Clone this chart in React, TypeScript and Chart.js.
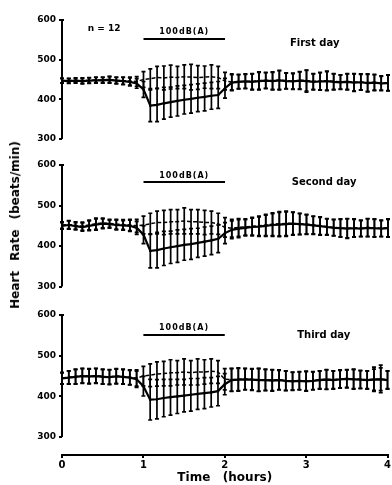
import React, { useEffect, useRef } from 'react';
import { Chart, registerables } from 'chart.js';

Chart.register(...registerables);

// ---------- data ----------
const minutes = [
  0, 5, 10, 15, 20, 25, 30, 35, 40, 45, 50, 55,
  60, 65, 70, 75, 80, 85, 90, 95, 100, 105, 110, 115,
  120, 125, 130, 135, 140, 145, 150, 155, 160, 165, 170, 175,
  180, 185, 190, 195, 200, 205, 210, 215, 220, 225, 230, 235, 240,
];
const hourTickValues = [0, 60, 120, 180, 240];
const hourLabels = ['0', '1', '2', '3', '4'];
const yTickValues = [300, 400, 500, 600];
const noisePeriod = [60, 120];

// Day 1
const d1Noise = [
  447, 446, 447, 446, 447, 448, 448, 449, 447, 446, 444, 440,
  425, 384, 386, 390, 393, 396, 399, 401, 404, 406, 409, 411,
  428, 442, 444, 445, 444, 446, 447, 446, 448, 446, 445, 447,
  446, 444, 445, 446, 444, 443, 444, 442, 443, 441, 442, 440, 441,
];
const d1NoiseErr = [
  6, 6, 6, 7, 7, 7, 7, 8, 8, 9, 10, 12,
  20, 40, 42, 40, 38, 38, 36, 36, 35, 35, 34, 34,
  25, 20, 18, 18, 20, 22, 20, 22, 24, 20, 20, 22,
  28, 20, 22, 24, 20, 18, 20, 22, 20, 22, 20, 18, 20,
];
const d1Ctrl = [
  447, 447, 448, 447, 448, 449, 449, 450, 448, 447, 446, 445,
  450, 452, 455, 454, 456, 455, 457, 456, 455, 456, 457, 455,
  446, 444, 445, 446, 445, 447, 448, 447, 449, 447, 446, 448,
  447, 445, 446, 447, 445, 444, 445, 443, 444, 442, 443, 441, 442,
];
const d1CtrlErr = [
  6, 6, 6, 7, 7, 7, 7, 8, 8, 9, 10, 12,
  20, 25, 28, 30, 30, 28, 30, 32, 30, 28, 30, 28,
  22, 20, 18, 18, 20, 22, 20, 22, 24, 20, 20, 22,
  26, 20, 22, 24, 20, 18, 20, 22, 20, 22, 20, 18, 20,
];

// Day 2
const d2Noise = [
  450, 452, 449, 447, 450, 453, 455, 454, 452, 451, 450, 445,
  428, 388, 390, 394, 397, 400, 403, 405, 408, 411, 414, 418,
  432, 440, 443, 445, 447, 448, 450, 452, 453, 454, 455, 454,
  453, 451, 449, 447, 445, 444, 443, 444, 443, 445, 444, 443, 444,
];
const d2NoiseErr = [
  8, 10, 9, 10, 12, 14, 12, 10, 12, 12, 14, 16,
  22, 42, 44, 42, 40, 40, 38, 38, 36, 36, 35, 34,
  26, 22, 22, 20, 22, 24, 26, 28, 30, 30, 28, 26,
  24, 22, 22, 20, 20, 22, 24, 22, 20, 22, 22, 20, 22,
];
const d2Ctrl = [
  452, 453, 451, 449, 452, 455, 457, 456, 454, 453, 452, 450,
  452, 455, 458, 458, 460, 460, 462, 460, 460, 458, 458, 455,
  446, 444, 446, 447, 449, 450, 452, 454, 455, 456, 456, 455,
  454, 452, 450, 448, 446, 445, 444, 445, 444, 446, 445, 444, 445,
];
const d2CtrlErr = [
  8, 10, 9, 10, 12, 14, 12, 10, 12, 12, 14, 16,
  22, 26, 28, 30, 30, 30, 32, 30, 30, 30, 28, 26,
  24, 22, 22, 20, 22, 24, 26, 28, 30, 30, 28, 26,
  24, 22, 22, 20, 20, 22, 24, 22, 20, 22, 22, 20, 22,
];

// Day 3
const d3Noise = [
  444, 446, 448, 450, 449, 450, 448, 447, 449, 448, 446, 442,
  425, 392, 393, 396, 398, 400, 402, 404, 406, 408, 410, 413,
  430, 440, 441, 442, 441, 440, 440, 439, 440, 438, 437, 438,
  437, 438, 440, 441, 440, 442, 443, 442, 441, 440, 441, 442, 440,
];
const d3NoiseErr = [
  14, 16, 18, 18, 18, 18, 18, 18, 18, 18, 18, 20,
  24, 50, 48, 46, 44, 42, 40, 40, 38, 38, 36, 36,
  26, 28, 28, 26, 26, 28, 26, 26, 24, 24, 22, 22,
  24, 22, 22, 24, 22, 22, 22, 24, 22, 22, 26, 28, 22,
];
const d3Ctrl = [
  445, 447, 449, 451, 450, 451, 449, 448, 450, 449, 447, 445,
  450, 452, 455, 456, 458, 458, 460, 458, 460, 460, 462, 460,
  442, 441, 442, 443, 442, 441, 441, 440, 441, 439, 438, 439,
  438, 439, 441, 442, 441, 443, 444, 443, 442, 441, 442, 443, 441,
];
const d3CtrlErr = [
  14, 16, 18, 18, 18, 18, 18, 18, 18, 18, 18, 20,
  24, 28, 30, 30, 32, 30, 32, 30, 32, 30, 30, 28,
  26, 28, 28, 26, 26, 28, 26, 26, 24, 24, 22, 22,
  24, 22, 22, 24, 22, 22, 22, 24, 22, 22, 30, 34, 22,
];

const FONT = "'DejaVu Sans', sans-serif";

// ---------- plugins ----------
const errorBarPlugin = {
  id: 'errorBars',
  afterDatasetsDraw(chart: any) {
    const ctx = chart.ctx;
    const ys = chart.scales.y;
    chart.data.datasets.forEach((ds: any, i: number) => {
      const errs = ds.errors;
      if (!errs) return;
      const meta = chart.getDatasetMeta(i);
      ctx.save();
      ctx.strokeStyle = '#000';
      ctx.lineWidth = 1.7;
      meta.data.forEach((pt: any, j: number) => {
        const v = ds.data[j].y;
        const e = errs[j];
        const top = ys.getPixelForValue(v + e);
        const bot = ys.getPixelForValue(v - e);
        ctx.beginPath();
        ctx.moveTo(pt.x, top);
        ctx.lineTo(pt.x, bot);
        ctx.moveTo(pt.x - 2, top);
        ctx.lineTo(pt.x + 2, top);
        ctx.moveTo(pt.x - 2, bot);
        ctx.lineTo(pt.x + 2, bot);
        ctx.stroke();
      });
      ctx.restore();
    });
  },
};

const decorPlugin = {
  id: 'decor',
  afterDraw(chart: any, _args: any, opts: any) {
    const ctx = chart.ctx;
    const xs = chart.scales.x;
    const ys = chart.scales.y;
    ctx.save();
    ctx.strokeStyle = '#000';
    ctx.fillStyle = '#000';
    // y axis line 300..600
    const left = chart.chartArea.left;
    const yTop = ys.getPixelForValue(600);
    const yBot = ys.getPixelForValue(300);
    ctx.lineWidth = 2;
    ctx.beginPath();
    ctx.moveTo(left, yTop);
    ctx.lineTo(left, yBot);
    ctx.moveTo(left - 2, yTop);
    ctx.lineTo(left + 2, yTop);
    ctx.stroke();
    // noise bar
    const nx0 = xs.getPixelForValue(noisePeriod[0]);
    const nx1 = xs.getPixelForValue(noisePeriod[1]);
    const ny = ys.getPixelForValue(opts.noiseLineVal);
    ctx.beginPath();
    ctx.lineWidth = 2;
    ctx.moveTo(nx0, ny);
    ctx.lineTo(nx1, ny);
    ctx.stroke();
    ctx.font = `bold 8px ${FONT}`;
    (ctx as any).letterSpacing = '1px';
    ctx.textAlign = 'center';
    ctx.textBaseline = 'middle';
    ctx.fillText('100dB(A)', (nx0 + nx1) / 2, ys.getPixelForValue(opts.noiseTextVal));
    (ctx as any).letterSpacing = '0px';
    // day label
    ctx.font = `bold 10px ${FONT}`;
    ctx.fillText(opts.label, xs.getPixelForValue(opts.labelMin), ys.getPixelForValue(opts.labelVal));
    if (opts.nText) {
      ctx.font = `bold 9px ${FONT}`;
      ctx.fillText(opts.nText, xs.getPixelForValue(opts.nMin), ys.getPixelForValue(opts.nVal));
    }
    ctx.restore();
  },
};

type PanelCfg = {
  top: number;
  height: number;
  padTop: number;
  padBottom: number;
  yMin: number;
  showX: boolean;
  noise: number[];
  noiseErr: number[];
  ctrl: number[];
  ctrlErr: number[];
  decor: any;
};

const panels: PanelCfg[] = [
  {
    top: 0, height: 148, padTop: 20, padBottom: 9, yMin: 300, showX: false,
    noise: d1Noise, noiseErr: d1NoiseErr, ctrl: d1Ctrl, ctrlErr: d1CtrlErr,
    decor: { label: 'First day', labelMin: 186, labelVal: 540, noiseLineVal: 552, noiseTextVal: 570, nText: 'n = 12', nMin: 31, nVal: 577 },
  },
  {
    top: 145, height: 150, padTop: 20, padBottom: 8, yMin: 300, showX: false,
    noise: d2Noise, noiseErr: d2NoiseErr, ctrl: d2Ctrl, ctrlErr: d2CtrlErr,
    decor: { label: 'Second day', labelMin: 193, labelVal: 558, noiseLineVal: 558, noiseTextVal: 573 },
  },
  {
    top: 295, height: 190, padTop: 20, padBottom: 0, yMin: 256, showX: true,
    noise: d3Noise, noiseErr: d3NoiseErr, ctrl: d3Ctrl, ctrlErr: d3CtrlErr,
    decor: { label: 'Third day', labelMin: 193, labelVal: 549, noiseLineVal: 551, noiseTextVal: 568 },
  },
];

function Panel({ cfg }: { cfg: PanelCfg }) {
  const ref = useRef<HTMLCanvasElement>(null);
  useEffect(() => {
    if (!ref.current) return;
    const chart = new Chart(ref.current, {
      type: 'line',
      data: {
        datasets: [
          {
            data: minutes.map((m, i) => ({ x: m, y: cfg.ctrl[i] })),
            errors: cfg.ctrlErr,
            borderColor: '#000',
            borderWidth: 1.5,
            borderDash: [4, 2],
            pointRadius: 0,
            tension: 0,
          } as any,
          {
            data: minutes.map((m, i) => ({ x: m, y: cfg.noise[i] })),
            errors: cfg.noiseErr,
            borderColor: '#000',
            borderWidth: 2.2,
            pointRadius: 1.3,
            pointBackgroundColor: '#000',
            pointBorderWidth: 0,
            tension: 0,
          } as any,
        ],
      },
      options: {
        responsive: false,
        animation: false,
        layout: { padding: { top: cfg.padTop, bottom: cfg.padBottom, left: 0, right: 4 } },
        plugins: {
          legend: { display: false },
          tooltip: { enabled: false },
          decor: cfg.decor,
        } as any,
        scales: {
          x: {
            type: 'linear',
            min: 0,
            max: 240,
            display: cfg.showX,
            afterBuildTicks: (s: any) => {
              s.ticks = hourTickValues.map((v) => ({ value: v }));
            },
            afterFit: (s: any) => {
              if (cfg.showX) s.height = 30;
            },
            ticks: {
              color: '#000',
              font: { family: FONT, size: 10, weight: 'bold' },
              padding: 1,
              maxRotation: 0,
              callback: (v: any) => hourLabels[hourTickValues.indexOf(Number(v))],
            },
            grid: { display: true, drawOnChartArea: false, drawTicks: true, tickLength: 3, color: '#000', lineWidth: 2 },
            border: { display: true, color: '#000', width: 2 },
            title: {
              display: true,
              text: 'Time   (hours)',
              color: '#000',
              font: { family: FONT, size: 12, weight: 'bold' },
              padding: { top: 0, bottom: 0 },
            },
          },
          y: {
            type: 'linear',
            min: cfg.yMin,
            max: 600,
            afterBuildTicks: (s: any) => {
              s.ticks = yTickValues.map((v) => ({ value: v }));
            },
            afterFit: (s: any) => {
              s.width = 62;
            },
            ticks: {
              color: '#000',
              font: { family: FONT, size: 9, weight: 'bold' },
              padding: 3,
            },
            grid: { display: true, drawOnChartArea: false, drawTicks: true, tickLength: 3, color: '#000', lineWidth: 2 },
            border: { display: false },
          },
        },
      } as any,
      plugins: [errorBarPlugin, decorPlugin],
    });
    return () => chart.destroy();
  }, [cfg]);
  return (
    <canvas
      ref={ref}
      width={392}
      height={cfg.height}
      style={{ position: 'absolute', left: 0, top: cfg.top, width: 392, height: cfg.height }}
    />
  );
}

export default function App() {
  return (
    <div style={{ position: 'absolute', left: 0, top: 0, width: 392, height: 485, background: '#fff', overflow: 'hidden' }}>
      {panels.map((p, i) => (
        <Panel key={i} cfg={p} />
      ))}
      <div
        style={{
          position: 'absolute',
          left: 15,
          top: 225,
          transform: 'translate(-50%, -50%) rotate(-90deg)',
          whiteSpace: 'nowrap',
          fontFamily: FONT,
          fontWeight: 'bold',
          fontSize: 12,
          wordSpacing: 6,
          color: '#000',
          zIndex: 2,
        }}
      >
        Heart Rate (beats/min)
      </div>
    </div>
  );
}
